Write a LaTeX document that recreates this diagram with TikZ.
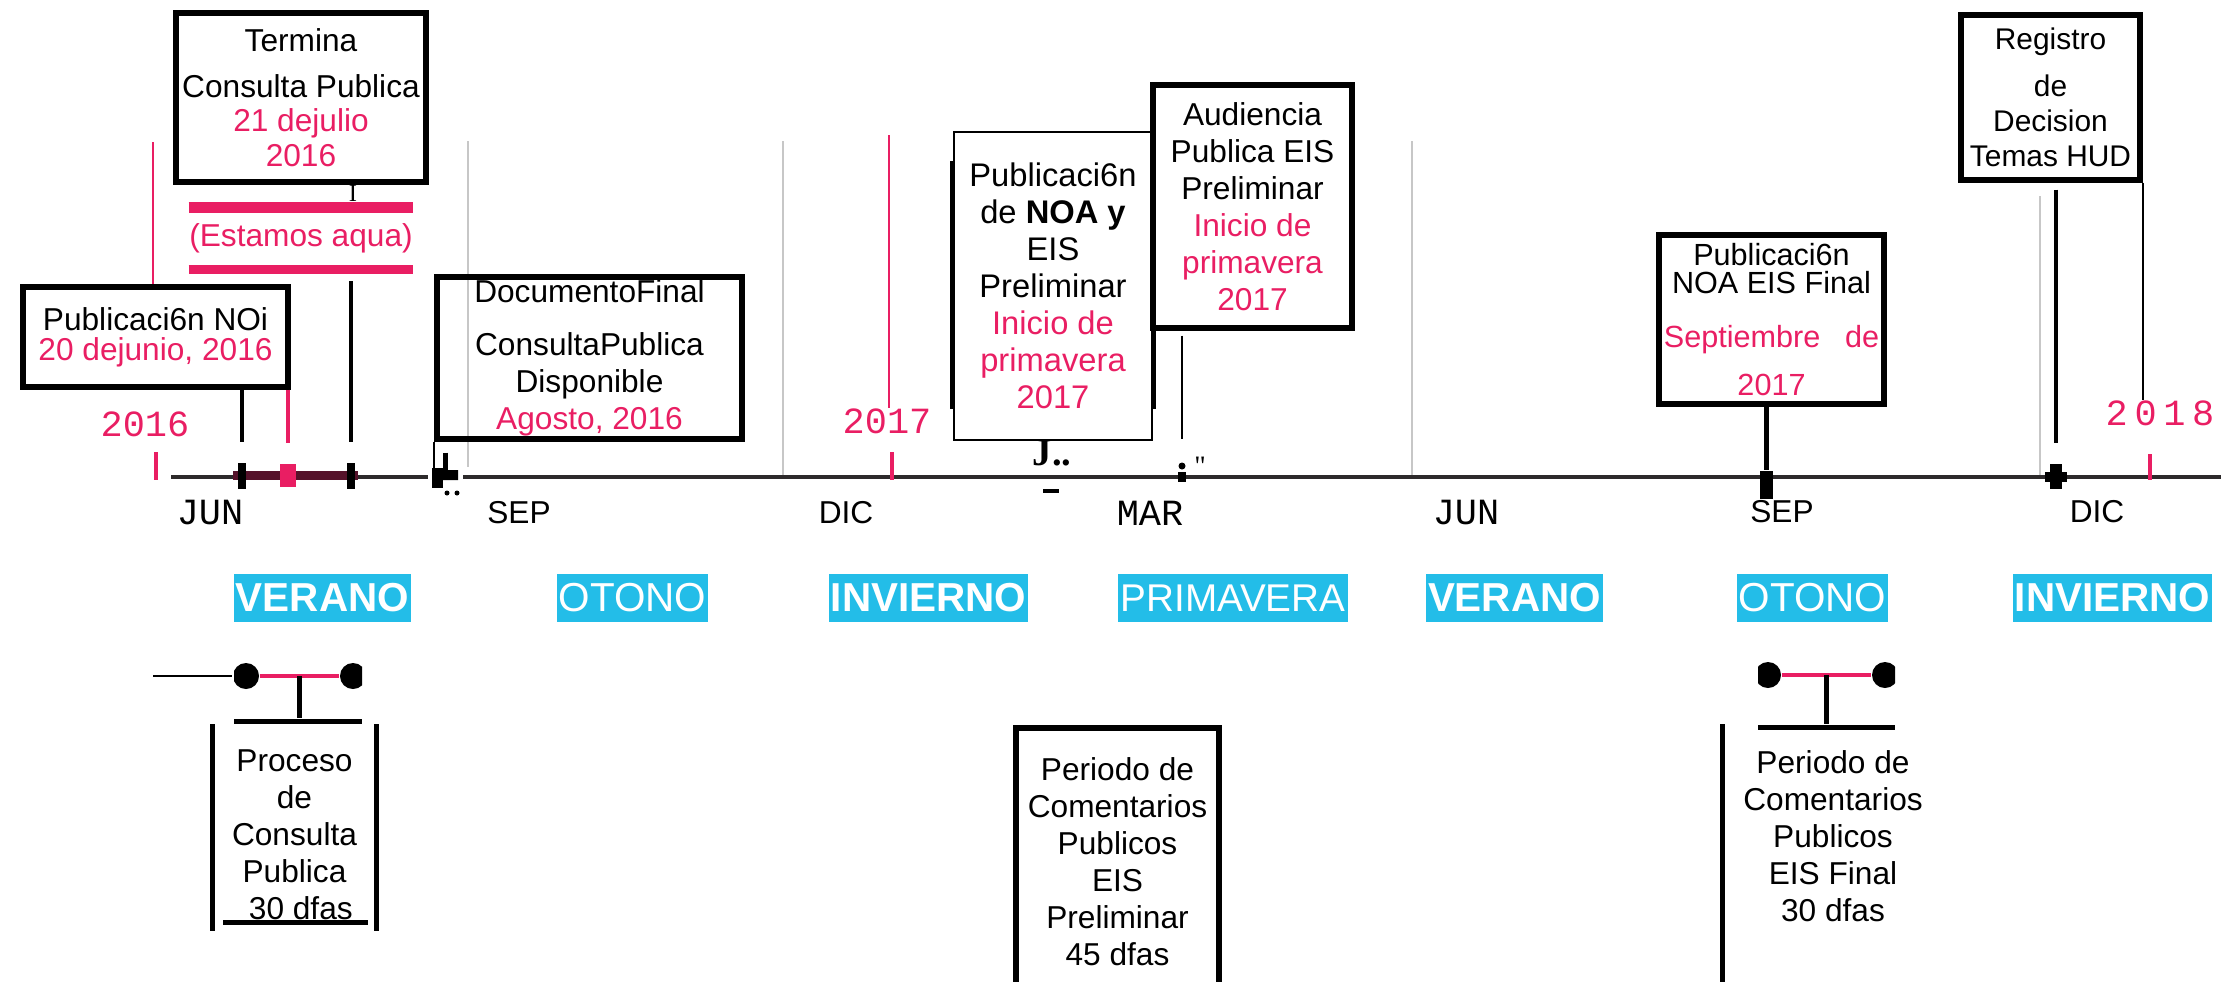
\documentclass[tikz,border=0pt]{standalone}
\usepackage{fontspec}
\setmainfont{Liberation Sans}
\setmonofont{Liberation Mono}
\newfontfamily\serifa{Liberation Serif}
\usepackage{tikz}
\usetikzlibrary{positioning}
\usepackage{color}
\definecolor{rosa}{RGB}{233,30,99}
\definecolor{cielo}{RGB}{35,189,232}
\definecolor{vino}{RGB}{85,18,42}
\definecolor{eje}{RGB}{45,42,43}

\begin{document}
\begin{tikzpicture}[x=0.01cm,y=-0.01cm,>=latex,font=\fontsize{9}{10.5}\selectfont]

\tikzstyle{caja}=[draw=black,line width=1.5pt,align=center,inner sep=0pt]
\tikzstyle{texto}=[align=center,inner sep=0pt]
\tikzstyle{lado}=[line width=1.5pt]
\tikzstyle{palo}=[line width=1.4pt]
\tikzstyle{fino}=[line width=0.5pt]
\tikzstyle{gris}=[draw=black!22,line width=0.6pt]
\tikzstyle{marca}=[fill=black,inner sep=0pt]
\tikzstyle{punto}=[fill=black,circle,inner sep=0pt,minimum size=0.26cm]
\tikzstyle{anio}=[text=rosa,inner sep=0pt,font=\ttfamily\fontsize{10.5}{12}\selectfont]
\tikzstyle{mes}=[inner sep=0pt,font=\fontsize{9}{10}\selectfont]
\tikzstyle{mesmono}=[inner sep=0pt,font=\ttfamily\fontsize{10.5}{12}\selectfont]
\tikzstyle{estacion}=[fill=cielo,text=white,minimum height=0.48cm,inner sep=0pt,font=\fontsize{11.5}{12}\selectfont]
\tikzstyle{estacionb}=[estacion,font=\bfseries\fontsize{11.5}{12}\selectfont]

    \useasboundingbox (0,0) rectangle (2221,981);
    \coordinate (fondo) at (0,990);

    \draw[gris] (468,141) -- (468,467);
    \draw[gris] (783,141) -- (783,477);
    \draw[gris] (1412,141) -- (1412,477);
    \draw[gris] (2040,196) -- (2040,477);

    \draw[eje,line width=1pt] (171,477) -- (428,477) (463,477) -- (2221,477);
    \fill[vino] (233,471) rectangle (358,480);

    \node[marca,minimum width=0.08cm,minimum height=0.26cm] (M1) at (242,476) {};
    \node[fill=rosa,inner sep=0pt,minimum width=0.15cm,minimum height=0.23cm] (M3) at (288,475.5) {};
    \node[marca,minimum width=0.08cm,minimum height=0.26cm] (M2) at (351,475.5) {};
    \node[marca,minimum width=0.11cm,minimum height=0.2cm] (M4) at (437.5,478) {};
    \fill (443,470) rectangle (458,480) (447,493) circle (2.5) (457,493) circle (2.5);
    \coordinate (m4) at (445.5,470);
    \node[marca,minimum width=0.08cm,minimum height=0.1cm] (M5) at (1182,477) {};
    \fill (1182,466) circle (3.5);
    \node[marca,minimum width=0.13cm,minimum height=0.28cm] (M6) at (1766.5,485) {};
    \node[marca,minimum width=0.12cm,minimum height=0.25cm] (M7) at (2056,476.5) {};
    \fill (2045,472) rectangle (2067,482);
    \fill (1043,489) rectangle (1059,493);

    \draw[rosa,line width=1pt] (156,452) -- (156,480) (892,452) -- (892,480) (2150,454) -- (2150,480);
    \node[anio] (Y16) at (145,424) {2016};
    \node[anio] (Y17) at (887,421) {2017};
    \node[anio] (Y18) at (2160,413) {\addfontfeature{LetterSpace=18}2018};

    \node[mesmono] (J1) at (210,513) {JUN};
    \node[mes] (S1) at (519,513) {SEP};
    \node[mes] (D1) at (846,513) {DIC};
    \node[mesmono] (MA) at (1150,513) {MAR};
    \node[mesmono] (J2) at (1466,513) {JUN};
    \node[mes] (S2) at (1782,512) {SEP};
    \node[mes] (D2) at (2097,512) {DIC};

    \node[estacionb,minimum width=1.77cm] (V1) at (322.5,598) {VERANO};
    \node[estacion,minimum width=1.51cm] (O1) at (632.5,598) {OTONO};
    \node[estacionb,minimum width=1.99cm] (I1) at (928.5,598) {INVIERNO};
    \node[estacion,minimum width=2.30cm,font=\fontsize{11}{12}\selectfont] (PR) at (1233,598) {PRIMAVERA};
    \node[estacionb,minimum width=1.77cm] (V2) at (1514.5,598) {VERANO};
    \node[estacion,minimum width=1.51cm] (O2) at (1812.5,598) {OTONO};
    \node[estacionb,minimum width=1.99cm] (I2) at (2112.5,598) {INVIERNO};

    \node[caja,minimum width=2.5cm,minimum height=1.69cm,font=\fontsize{9}{9.8}\selectfont] (T) at (301,97.5) {Termina\\[3.2pt]Consulta Publica\\\textcolor{rosa}{21 dejulio}\\\textcolor{rosa}{2016}};
    \node[texto,text=rosa,minimum width=2.08cm,minimum height=0.6cm,below=0.23cm of T] (E) {(Estamos aqua)};
    \node[caja,minimum width=2.65cm,minimum height=1cm,font=\fontsize{9}{8.6}\selectfont] (N) at (155.5,337) {Publicaci6n NOi\\\textcolor{rosa}{20 dejunio, 2016}};
    \node[caja,minimum width=3.05cm,minimum height=1.62cm] (D) at (589.5,358) {DocumentoFinal\\[4.5pt]ConsultaPublica\\Disponible\\\textcolor{rosa}{Agosto, 2016}};
    \node[caja,minimum width=1.99cm,minimum height=2.43cm] (A) at (1252.5,206.5) {Audiencia\\Publica EIS\\Preliminar\\\textcolor{rosa}{Inicio de}\\\textcolor{rosa}{primavera}\\\textcolor{rosa}{2017}};
    \node[caja,line width=0.7pt,minimum width=1.98cm,minimum height=3.08cm,font=\fontsize{9.3}{10.5}\selectfont] (P) at (1053,286) {Publicaci6n\\de \textbf{NOA y}\\EIS\\Preliminar\\\textcolor{rosa}{Inicio de}\\\textcolor{rosa}{primavera}\\\textcolor{rosa}{2017}};
    \node[caja,minimum width=2.25cm,minimum height=1.69cm,font=\fontsize{8.7}{8}\selectfont] (F) at (1771.5,319.5) {Publicaci6n\\NOA EIS Final\\[7.4pt]\textcolor{rosa}{Septiembre\hspace{7pt}de}\\[5.6pt]\textcolor{rosa}{2017}};
    \node[caja,minimum width=1.79cm,minimum height=1.65cm,font=\fontsize{8.5}{10}\selectfont] (R) at (2050.5,97.5) {Registro\\[3.4pt]de\\Decision\\Temas HUD};

    \draw[rosa,line width=3pt] (E.north west) -- (E.north east);
    \draw[rosa,line width=2.6pt] (E.south west) -- (E.south east);
    \draw[lado] ([shift={(0,30)}]P.north west) -- ([shift={(0,-32)}]P.south west);
    \draw[lado] ([shift={(0,35)}]P.north east) -- ([shift={(0,-32)}]P.south east);

    \coordinate (p16) at (153,142);
    \coordinate (p17) at (889,135);

\path
    (p16) edge[rosa,line width=0.6pt] (p16 |- N.north)
    (p17) edge[rosa,line width=0.8pt] (p17 |- Y17.north)
    (N.south -| M1) edge[palo,shorten >=0.2cm] (M1.north)
    (N.south -| M3) edge[rosa,palo,shorten >=0.2cm] (M3.north)
    (E.south -| M2) edge[palo,shorten <=0.12cm,shorten >=0.2cm] (M2.north)
    (D.south -| m4) edge[palo,shorten <=0.11cm] (m4)
    (D.south west) edge[fino] (D.south west |- m4)
    (A.south -| M5) edge[fino,shorten <=0.05cm,shorten >=0.32cm] (M5.north)
    (F.south -| M6) edge[palo] (M6.north)
    (R.south -| M7) edge[palo,shorten <=0.07cm,shorten >=0.2cm] (M7.north)
    (R.south east) edge[fino] (R.south east |- Y18.north);

    \node[font=\serifa\fontsize{7}{8}\selectfont] (i1) at (353,193) {I};
    \node[font=\serifa\bfseries\fontsize{11}{12}\selectfont] (j1) at (1052,453) {J..};
    \node[font=\serifa\fontsize{8}{9}\selectfont] (j3) at (1200,466) {"};

    % soportes de los periodos
    \coordinate (c0) at (153,676);
    \begin{scope}
    \clip (234,655) rectangle (362,735);
    \node[punto] (d1) at (246,676) {};
    \node[punto] (d2) at (353,676) {};
    \node[marca,minimum width=1.29cm,minimum height=0.05cm] (B1bar) at (297.5,721) {};
    \draw[rosa,line width=1.3pt] (d1) -- (d2) coordinate[midway] (k1);
    \draw[palo] (k1) -- (k1 |- B1bar.north);
    \end{scope}
    \draw[fino,line width=0.7pt] (c0) -- (d1.west);

    \begin{scope}
    \clip (1758,655) rectangle (1895,735);
    \node[punto] (d3) at (1768,675) {};
    \node[punto] (d4) at (1885,675) {};
    \node[marca,minimum width=1.37cm,minimum height=0.05cm] (B3bar) at (1826.5,727) {};
    \draw[rosa,line width=1.3pt] (d3) -- (d4) coordinate[midway] (k2);
    \draw[palo] (k2) -- (k2 |- B3bar.north);
    \end{scope}

    \node[texto,minimum width=1.63cm,minimum height=2.2cm] (B1) at (294.5,835) {Proceso\\de\\Consulta\\Publica\\\hspace{0.4em}30 dfas};
    \draw[lado] (B1.north west) -- ([shift={(0,-15)}]B1.south west);
    \draw[lado] (B1.north east) -- ([shift={(0,-15)}]B1.south east);
    \draw[palo] ([shift={(11,-23)}]B1.south west) -- ([shift={(-9,-23)}]B1.south east);

    \node[caja,line width=1.7pt,minimum width=2.03cm,minimum height=2.67cm] (B2) at (1117.5,861.5) {Periodo de\\Comentarios\\Publicos\\EIS\\Preliminar\\45 dfas};

    \node[texto,minimum width=2.2cm,minimum height=2.22cm] (B3) at (1833,836) {Periodo de\\Comentarios\\Publicos\\EIS Final\\30 dfas};
    \draw[lado] (B3.north west) -- (B3.north west |- fondo);
\end{tikzpicture}
\end{document}
